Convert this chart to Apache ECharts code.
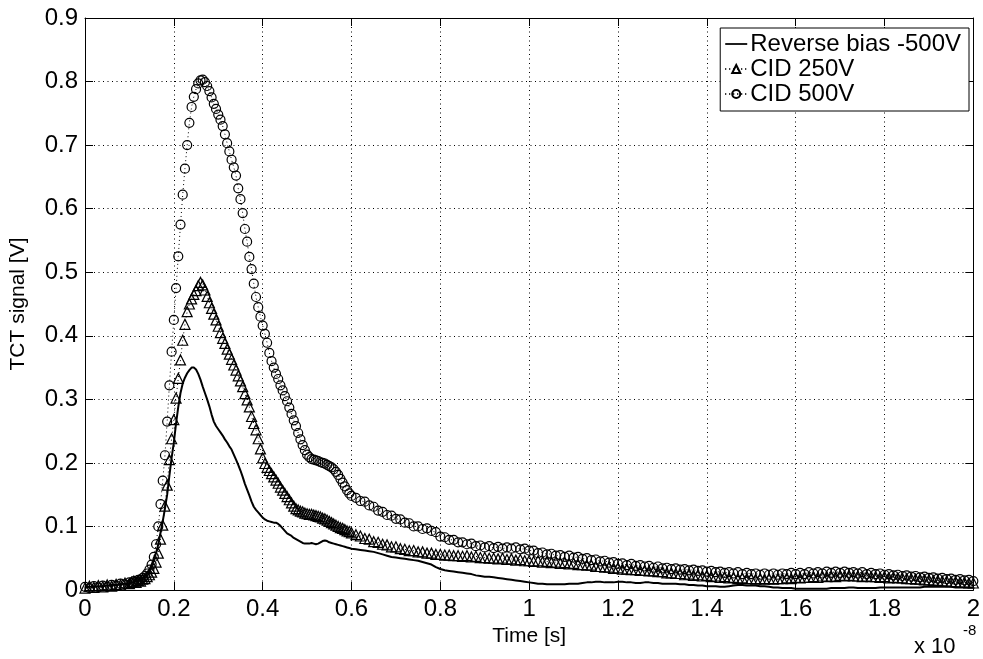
<!DOCTYPE html>
<html>
<head>
<meta charset="utf-8">
<script src="https://cdn.jsdelivr.net/npm/echarts@6/dist/echarts.min.js"></script>
<style>
html,body{margin:0;padding:0;background:#fff;}
#chart{width:983px;height:659px;}
</style>
</head>
<body>
<div id="chart"></div>
<script>
// Sampling grid (units of 1e-8 s): [start, end, step]
const timeSegments = [[0, 0.10, 0.01], [0.105, 0.600, 0.005], [0.61, 2.00, 0.01]];

const xTicks = [0, 0.2, 0.4, 0.6, 0.8, 1, 1.2, 1.4, 1.6, 1.8, 2];
const yTicks = [0, 0.1, 0.2, 0.3, 0.4, 0.5, 0.6, 0.7, 0.8, 0.9];
const seriesNames = ['Reverse bias -500V', 'CID 250V', 'CID 500V'];

// Reverse bias -500V [V]
const reverseBias = [
  0.004,0.005,0.005,0.006,0.006,0.007,0.008,0.008,0.009,0.010,0.011,
  // 0.105 - 0.600
  0.012,0.013,0.014,0.015,0.017,0.019,0.022,0.027,0.032,0.040,
  0.048,0.058,0.072,0.090,0.108,0.128,0.150,0.180,0.208,0.232,
  0.262,0.288,0.310,0.325,0.334,0.341,0.346,0.350,0.350,0.347,
  0.340,0.331,0.320,0.310,0.300,0.289,0.276,0.265,0.258,0.253,
  0.248,0.243,0.237,0.232,0.226,0.221,0.213,0.205,0.197,0.188,
  0.178,0.167,0.158,0.149,0.139,0.131,0.126,0.122,0.118,0.114,
  0.111,0.109,0.108,0.107,0.106,0.106,0.104,0.101,0.097,0.093,
  0.089,0.087,0.085,0.082,0.080,0.078,0.076,0.074,0.073,0.073,
  0.073,0.074,0.073,0.072,0.073,0.075,0.077,0.078,0.077,0.075,
  0.074,0.073,0.072,0.071,0.070,0.069,0.068,0.067,0.066,0.065,
  // 0.61 - 2.00
  0.064,0.063,0.062,0.061,0.060,0.058,0.056,0.054,0.052,0.051,
  0.050,0.049,0.048,0.047,0.046,0.044,0.042,0.040,0.036,0.033,
  0.031,0.030,0.029,0.028,0.027,0.026,0.025,0.023,0.022,0.021,
  0.021,0.020,0.019,0.018,0.017,0.016,0.015,0.014,0.013,0.012,
  0.011,0.010,0.010,0.009,0.009,0.009,0.009,0.009,0.010,0.010,
  0.010,0.011,0.012,0.012,0.013,0.013,0.012,0.012,0.012,0.013,
  0.013,0.012,0.012,0.011,0.011,0.012,0.012,0.011,0.011,0.010,
  0.010,0.010,0.010,0.009,0.009,0.008,0.008,0.007,0.007,0.006,
  0.006,0.006,0.005,0.005,0.006,0.007,0.008,0.008,0.007,0.007,
  0.007,0.006,0.006,0.005,0.004,0.004,0.003,0.003,0.003,0.002,
  0.002,0.002,0.002,0.002,0.002,0.002,0.002,0.003,0.003,0.003,
  0.003,0.004,0.004,0.003,0.003,0.003,0.003,0.003,0.004,0.004,
  0.004,0.004,0.004,0.004,0.004,0.004,0.004,0.004,0.005,0.005,
  0.005,0.005,0.005,0.005,0.005,0.004,0.004,0.004,0.004,0.004
];

// CID 250V [V]
const cid250 = [
  0.003,0.006,0.004,0.007,0.005,0.008,0.006,0.009,0.008,0.011,0.010,
  0.012,0.014,0.012,0.015,0.014,0.017,0.018,0.021,0.024,0.028,
  0.034,0.044,0.058,0.080,0.102,0.132,0.165,0.205,0.238,0.268,
  0.302,0.333,0.362,0.393,0.418,0.438,0.450,0.458,0.465,0.471,
  0.479,0.484,0.480,0.472,0.462,0.452,0.443,0.434,0.425,0.415,
  0.405,0.396,0.388,0.379,0.371,0.363,0.354,0.346,0.337,0.329,
  0.320,0.309,0.299,0.288,0.273,0.262,0.252,0.238,0.222,0.208,
  0.199,0.193,0.188,0.183,0.178,0.173,0.168,0.162,0.157,0.152,
  0.147,0.142,0.137,0.132,0.128,0.126,0.124,0.123,0.121,0.120,
  0.119,0.119,0.118,0.117,0.116,0.115,0.113,0.112,0.110,0.108,
  0.106,0.104,0.102,0.100,0.098,0.097,0.095,0.093,0.092,0.090,
  0.087,0.085,0.081,0.080,0.076,0.075,0.072,0.071,0.068,0.068,
  0.065,0.064,0.062,0.062,0.060,0.060,0.058,0.058,0.056,0.056,
  0.055,0.055,0.054,0.054,0.053,0.054,0.052,0.053,0.051,0.051,
  0.050,0.050,0.049,0.050,0.048,0.049,0.047,0.048,0.046,0.046,
  0.045,0.046,0.044,0.045,0.043,0.044,0.042,0.043,0.041,0.042,
  0.040,0.040,0.039,0.039,0.037,0.037,0.036,0.036,0.034,0.035,
  0.033,0.033,0.032,0.032,0.031,0.031,0.030,0.030,0.029,0.029,
  0.027,0.027,0.026,0.026,0.024,0.025,0.023,0.024,0.022,0.023,
  0.021,0.022,0.020,0.021,0.019,0.020,0.018,0.019,0.018,0.018,
  0.017,0.018,0.017,0.018,0.017,0.018,0.018,0.019,0.018,0.020,
  0.019,0.020,0.020,0.021,0.020,0.022,0.021,0.022,0.021,0.023,
  0.022,0.023,0.022,0.022,0.021,0.022,0.021,0.021,0.020,0.021,
  0.019,0.020,0.019,0.019,0.018,0.018,0.017,0.017,0.016,0.016,
  0.015,0.015,0.014,0.014,0.013,0.013,0.012,0.012,0.011,0.011
];

// CID 500V [V]
const cid500 = [
  0.005,0.003,0.006,0.004,0.007,0.005,0.008,0.007,0.010,0.009,0.012,
  0.011,0.014,0.013,0.016,0.016,0.019,0.022,0.026,0.032,0.040,
  0.052,0.072,0.100,0.135,0.172,0.212,0.265,0.322,0.375,0.425,
  0.475,0.525,0.575,0.622,0.663,0.700,0.735,0.760,0.776,0.788,
  0.797,0.802,0.803,0.799,0.793,0.785,0.775,0.765,0.757,0.748,
  0.740,0.730,0.717,0.703,0.690,0.677,0.665,0.652,0.632,0.615,
  0.593,0.568,0.548,0.524,0.505,0.482,0.461,0.445,0.430,0.416,
  0.403,0.389,0.373,0.360,0.350,0.340,0.332,0.322,0.314,0.305,
  0.297,0.287,0.277,0.267,0.258,0.247,0.237,0.228,0.220,0.213,
  0.209,0.206,0.205,0.204,0.203,0.201,0.200,0.199,0.197,0.195,
  0.193,0.190,0.186,0.181,0.175,0.169,0.163,0.157,0.152,0.148,
  0.145,0.140,0.139,0.133,0.131,0.125,0.123,0.118,0.117,0.112,
  0.111,0.106,0.105,0.100,0.100,0.096,0.097,0.093,0.091,0.084,
  0.083,0.079,0.079,0.075,0.075,0.072,0.073,0.069,0.070,0.067,
  0.069,0.066,0.068,0.065,0.067,0.065,0.067,0.064,0.065,0.062,
  0.062,0.058,0.059,0.056,0.057,0.054,0.055,0.052,0.054,0.051,
  0.052,0.049,0.050,0.047,0.048,0.045,0.046,0.043,0.044,0.041,
  0.042,0.039,0.041,0.038,0.039,0.037,0.038,0.035,0.037,0.034,
  0.035,0.033,0.034,0.032,0.033,0.031,0.032,0.030,0.031,0.029,
  0.030,0.028,0.029,0.027,0.028,0.026,0.028,0.025,0.027,0.025,
  0.026,0.024,0.026,0.024,0.026,0.024,0.026,0.025,0.027,0.025,
  0.027,0.025,0.028,0.026,0.028,0.026,0.029,0.027,0.029,0.027,
  0.029,0.027,0.028,0.026,0.028,0.025,0.027,0.025,0.026,0.024,
  0.025,0.023,0.024,0.022,0.023,0.021,0.022,0.020,0.021,0.019,
  0.020,0.018,0.019,0.017,0.018,0.016,0.017,0.015,0.016,0.014
];

function buildTime(segs) {
  const t = [];
  segs.forEach(function (s) {
    const n = Math.round((s[1] - s[0]) / s[2]);
    for (let i = 0; i <= n; i++) t.push(+(s[0] + i * s[2]).toFixed(3));
  });
  return t;
}
const time = buildTime(timeSegments);
function pairs(vals) { return vals.map(function (v, i) { return [time[i], v]; }); }

const FONT = '"Liberation Sans", Arial, Helvetica, sans-serif';
const fmt = function (v) { return String(+(+v).toFixed(2)); };

const chart = echarts.init(document.getElementById('chart'), null, {renderer: 'canvas'});
const frameAxis = {
  axisLine: {show: true, onZero: false, lineStyle: {color: '#000', width: 1}},
  axisTick: {show: true, inside: true, length: 8, lineStyle: {color: '#000', width: 1}},
  axisLabel: {show: false},
  splitLine: {show: false}
};
const gridDots = {show: true, lineStyle: {color: '#000', width: 1, type: [1, 3.5]}};

chart.setOption({
  animation: false,
  backgroundColor: '#fff',
  grid: {left: 85, right: 6, top: 18, bottom: 69, containLabel: false},
  xAxis: [
    {
      type: 'value', min: 0, max: 2, interval: 0.2, position: 'bottom',
      name: 'Time [s]', nameLocation: 'middle', nameGap: 33,
      nameTextStyle: {fontFamily: FONT, fontSize: 21, color: '#000'},
      axisLine: {show: true, onZero: false, lineStyle: {color: '#000', width: 1}},
      axisTick: {show: true, inside: true, length: 8, lineStyle: {color: '#000'}},
      axisLabel: {show: true, margin: 7, fontFamily: FONT, fontSize: 24, color: '#000', formatter: fmt},
      splitLine: gridDots
    },
    Object.assign({type: 'value', min: 0, max: 2, interval: 0.2, position: 'top'}, frameAxis)
  ],
  yAxis: [
    {
      type: 'value', min: 0, max: 0.9, interval: 0.1, position: 'left',
      name: 'TCT signal [V]', nameLocation: 'middle', nameGap: 56, nameRotate: 90,
      nameTextStyle: {fontFamily: FONT, fontSize: 21, color: '#000'},
      axisLine: {show: true, onZero: false, lineStyle: {color: '#000', width: 1}},
      axisTick: {show: true, inside: true, length: 8, lineStyle: {color: '#000'}},
      axisLabel: {show: true, margin: 7, fontFamily: FONT, fontSize: 24, color: '#000', formatter: fmt},
      splitLine: gridDots
    },
    Object.assign({type: 'value', min: 0, max: 0.9, interval: 0.1, position: 'right'}, frameAxis)
  ],
  legend: {
    data: [
      {name: seriesNames[0], icon: 'path://M0,0L20,0L20,1.6L0,1.6Z', itemStyle: {color: '#000', borderWidth: 0}},
      {name: seriesNames[1]},
      {name: seriesNames[2]}
    ],
    orient: 'vertical', right: 14, top: 28,
    backgroundColor: '#fff', borderColor: '#000', borderWidth: 1, borderRadius: 0,
    padding: [4, 8, 5, 4], itemGap: 1, itemWidth: 22, itemHeight: 10,
    textStyle: {fontFamily: FONT, fontSize: 24, color: '#000', padding: [0, 0, 0, -2]}
  },
  graphic: [
    {type: 'text', left: 914, top: 636, style: {text: 'x 10', font: '22px ' + FONT, fill: '#000'}},
    {type: 'text', left: 963, top: 623, style: {text: '-8', font: '15px ' + FONT, fill: '#000'}}
  ],
  series: [
    {
      name: seriesNames[0], type: 'line', data: pairs(reverseBias),
      symbol: 'none', showSymbol: false,
      lineStyle: {color: '#000', width: 2}, itemStyle: {color: '#000'}, z: 3
    },
    {
      name: seriesNames[1], type: 'line', data: pairs(cid250),
      symbol: 'triangle', symbolSize: 10, showAllSymbol: true, sampling: null,
      lineStyle: {color: '#000', width: 1, type: [1, 3]},
      itemStyle: {color: 'rgba(255,255,255,0)', borderColor: '#000', borderWidth: 1.2}, z: 4
    },
    {
      name: seriesNames[2], type: 'line', data: pairs(cid500),
      symbol: 'circle', symbolSize: 9, showAllSymbol: true, sampling: null,
      lineStyle: {color: '#000', width: 1, type: [1, 3]},
      itemStyle: {color: 'rgba(255,255,255,0)', borderColor: '#000', borderWidth: 1.2}, z: 5
    }
  ]
});
</script>
</body>
</html>
